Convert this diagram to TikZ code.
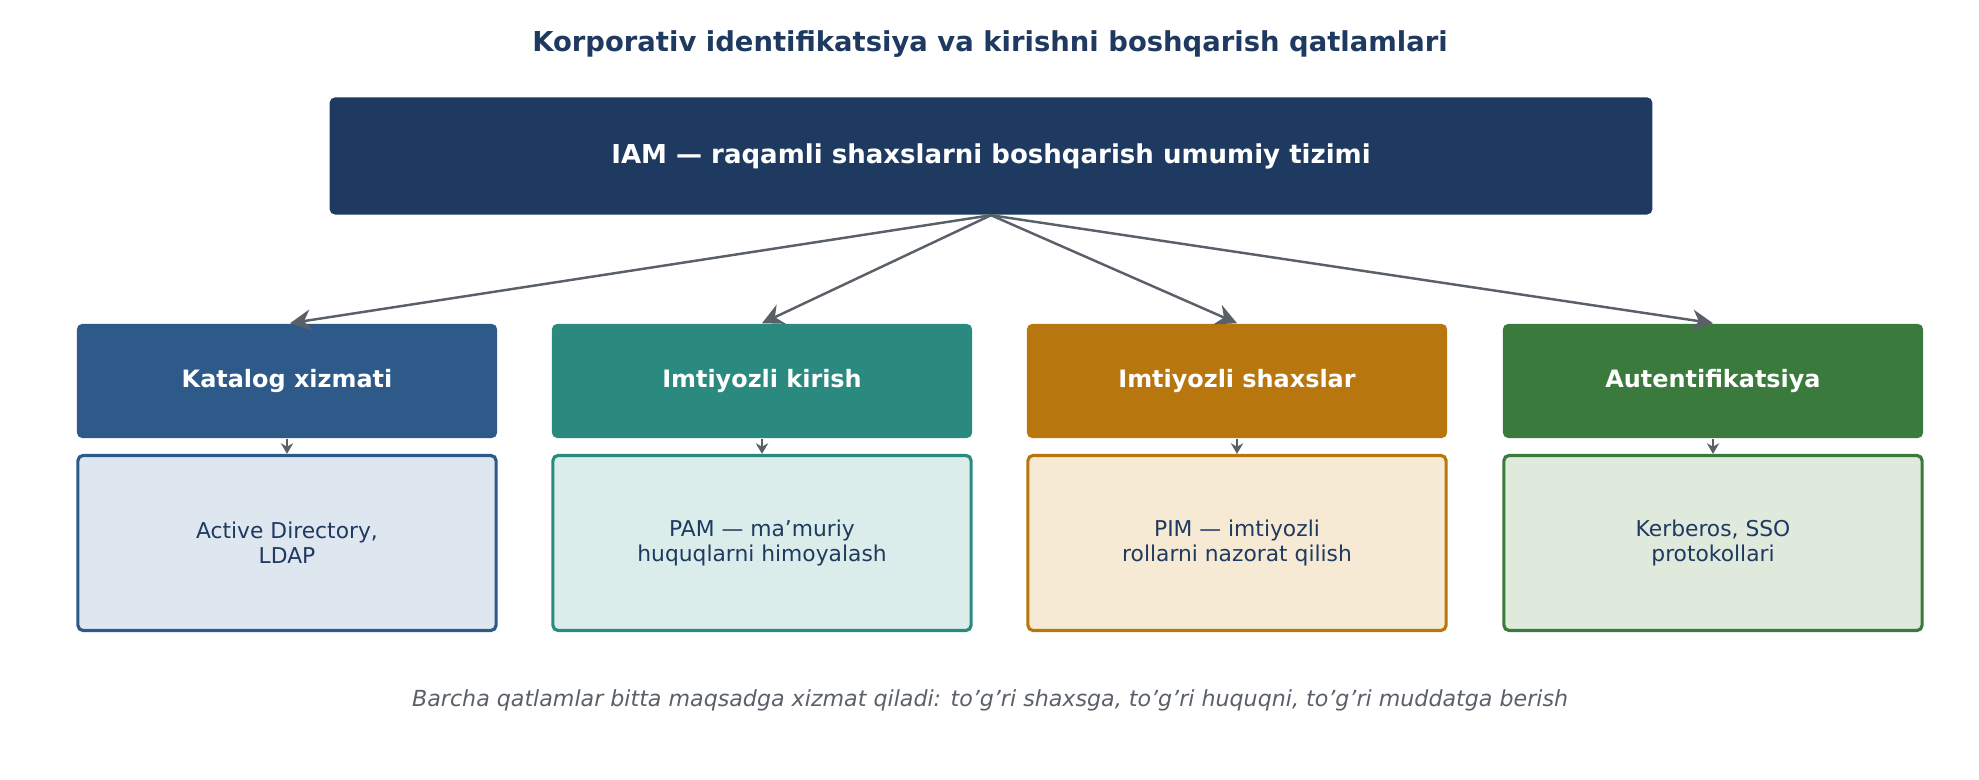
\documentclass[tikz,border=0pt]{standalone}
\usepackage{fontspec}
\setmainfont{DejaVu Sans}
\usetikzlibrary{arrows.meta,positioning}
\definecolor{navy}{HTML}{1F3A60}
\definecolor{linegray}{HTML}{5A6068}
\definecolor{cKat}{HTML}{2E5A8A}
\definecolor{cPam}{HTML}{2A8A80}
\definecolor{cPim}{HTML}{B8760F}
\definecolor{cAut}{HTML}{3B7A3D}
\definecolor{lKat}{HTML}{DEE6F0}
\definecolor{lPam}{HTML}{DBEDEA}
\definecolor{lPim}{HTML}{F6EAD4}
\definecolor{lAut}{HTML}{DFE9DC}
\tikzset{>={Stealth[length=6pt,width=6pt]},
  head/.style={rounded corners=1.5pt,minimum width=4.2cm,minimum height=1.14cm,
    text=white,font=\fontsize{6.8}{8}\selectfont\bfseries},
  body/.style={rounded corners=1.5pt,line width=0.9pt,minimum width=4.18cm,
    minimum height=1.75cm,text=navy,align=center,font=\fontsize{6.2}{7}\selectfont},
  link/.style={->,draw=linegray,line width=0.7pt},
  tip/.style={-{Stealth[length=3pt,width=3.5pt]},draw=linegray,line width=0.6pt}}
\begin{document}
\begin{tikzpicture}[x=0.01cm,y=0.01cm]
  \useasboundingbox (0,0) rectangle (1979,780);

  \node[text=navy,font=\fontsize{7.8}{9}\selectfont\bfseries] (title) at (990,736)
    {Korporativ identifikatsiya va kirishni boshqarish qatlamlari};

  \node[fill=navy,rounded corners=1.5pt,minimum width=13.22cm,minimum height=1.17cm,
    text=white,font=\fontsize{7.4}{9}\selectfont\bfseries] (iam) at (991,624)
    {IAM — raqamli shaxslarni boshqarish umumiy tizimi};

  \node[head,fill=cKat] (kat) at (287,399) {Katalog xizmati};
  \node[head,fill=cPam] (pam) at (762,399) {Imtiyozli kirish};
  \node[head,fill=cPim] (pim) at (1237,399) {Imtiyozli shaxslar};
  \node[head,fill=cAut] (aut) at (1713,399) {Autentifikatsiya};

  \node[body,draw=cKat,fill=lKat] (katb) at (287,237) {Active Directory,\\LDAP};
  \node[body,draw=cPam,fill=lPam] (pamb) at (762,237) {PAM — ma'muriy\\huquqlarni himoyalash};
  \node[body,draw=cPim,fill=lPim] (pimb) at (1237,237) {PIM — imtiyozli\\rollarni nazorat qilish};
  \node[body,draw=cAut,fill=lAut] (autb) at (1713,237) {Kerberos, SSO\\protokollari};

  \draw[link] (iam.south) -- (kat.north west -| 290,456);
  \draw[link] (iam.south) -- (pam.north);
  \draw[link] (iam.south) -- (pim.north);
  \draw[link] (iam.south) -- (aut.north);

  \foreach \a in {kat,pam,pim,aut}
    \draw[tip] (\a.south) -- (\a b.north);

  \node[text=linegray,font=\fontsize{6.3}{8}\selectfont\itshape] (foot) at (990,80)
    {Barcha qatlamlar bitta maqsadga xizmat qiladi: to'g'ri shaxsga, to'g'ri huquqni, to'g'ri muddatga berish};
\end{tikzpicture}
\end{document}
